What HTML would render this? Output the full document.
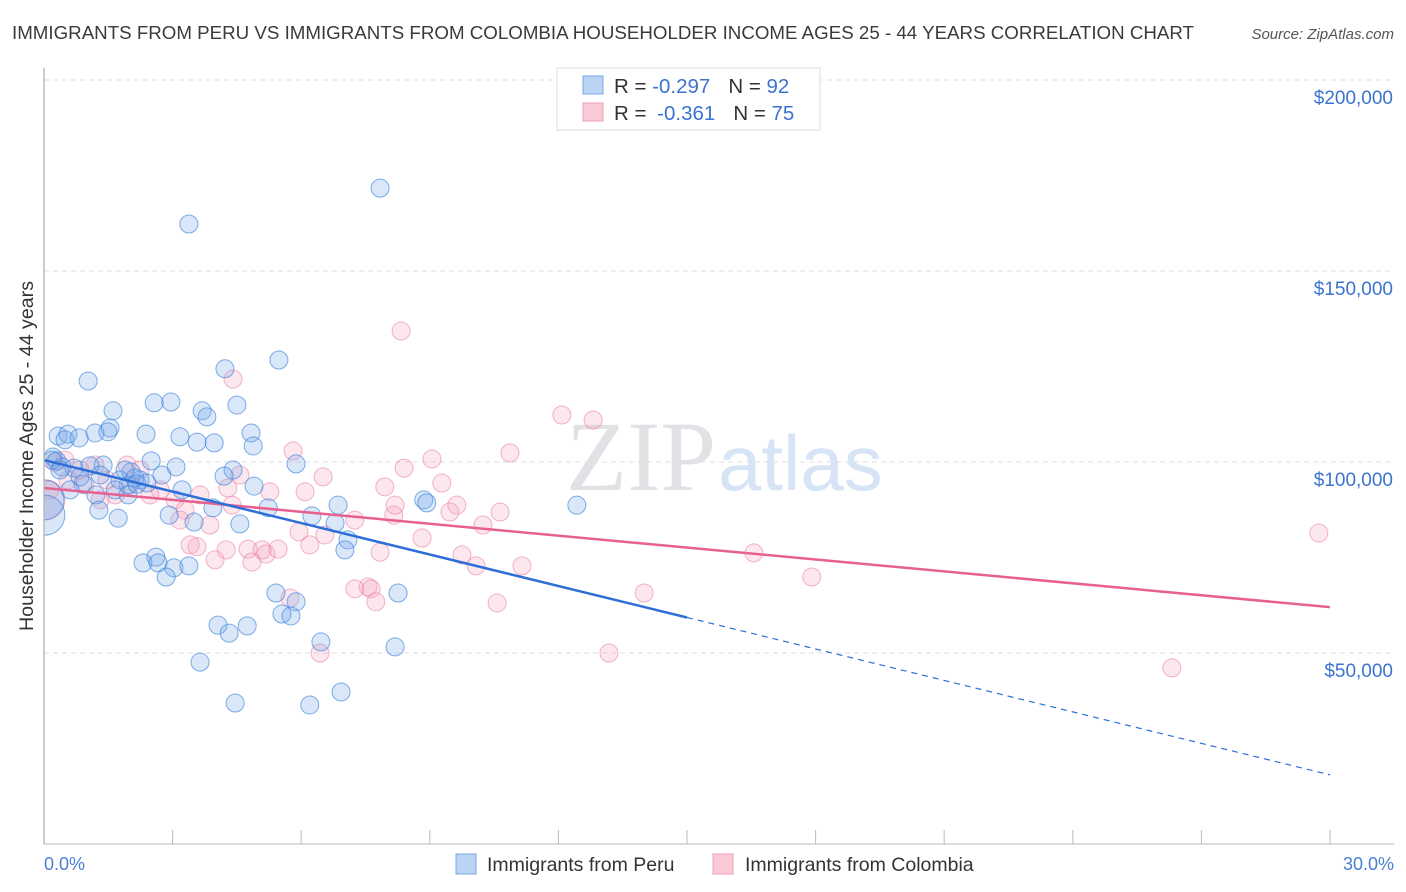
<!DOCTYPE html>
<html><head><meta charset="utf-8"><style>
body{margin:0;background:#fff;font-family:"Liberation Sans",sans-serif;}
svg{display:block}
</style></head><body>
<svg id="chart" width="1406" height="892" xmlns="http://www.w3.org/2000/svg">
<defs><clipPath id="plotclip"><rect x="44" y="60" width="1360" height="784"/></clipPath></defs>
<text x="12" y="39" font-size="18" fill="#3a3a3a" textLength="1182" lengthAdjust="spacingAndGlyphs">IMMIGRANTS FROM PERU VS IMMIGRANTS FROM COLOMBIA HOUSEHOLDER INCOME AGES 25 - 44 YEARS CORRELATION CHART</text>
<text x="1394" y="39" font-size="15" fill="#555" font-style="italic" text-anchor="end">Source: ZipAtlas.com</text>
<text transform="translate(33,456) rotate(-90)" font-size="19" fill="#333" text-anchor="middle" textLength="350" lengthAdjust="spacingAndGlyphs">Householder Income Ages 25 - 44 years</text>
<g id="grid"></g>
<text x="716" y="490" font-size="100" fill="#e2e2e6" text-anchor="end" font-family="Liberation Serif,serif">ZIP</text>
<text x="718" y="490" font-size="78" fill="#d6e4f6">atlas</text>
<g id="points" clip-path="url(#plotclip)"></g>
<g id="trends"></g>
<line x1="44" y1="68" x2="44" y2="844" stroke="#bbb" stroke-width="1.5"/>
<line x1="44" y1="844" x2="1394" y2="844" stroke="#bbb" stroke-width="1"/>
<text x="44" y="870" font-size="18" fill="#4a7fd6">0.0%</text>
<text x="1394" y="870" font-size="18" fill="#4a7fd6" text-anchor="end">30.0%</text>
<g>
<rect x="557" y="68" width="263" height="62" fill="#fff" stroke="#ddd"/>
<rect x="583" y="76" width="20" height="18" fill="#bcd4f4" stroke="#7aa7e4"/>
<rect x="583" y="103" width="20" height="18" fill="#f9c9d6" stroke="#eda0b8"/>
<text x="614" y="93" font-size="20.5" fill="#333">R = <tspan fill="#3b73d1">-0.297</tspan><tspan dx="18">N = </tspan><tspan fill="#3b73d1">92</tspan></text>
<text x="614" y="120" font-size="20.5" fill="#333">R = <tspan fill="#3b73d1" dx="5">-0.361</tspan><tspan dx="18">N = </tspan><tspan fill="#3b73d1">75</tspan></text>
</g>
<g>
<rect x="456" y="854" width="20" height="20" fill="#bcd4f4" stroke="#7aa7e4"/>
<text x="487" y="871" font-size="19.5" fill="#333">Immigrants from Peru</text>
<rect x="713" y="854" width="20" height="20" fill="#f9c9d6" stroke="#eda0b8"/>
<text x="745" y="871" font-size="19.5" fill="#333">Immigrants from Colombia</text>
</g>
</svg>
<script>
const yTicks=[50000,100000,150000,200000];
const yTickLabels=["$50,000","$100,000","$150,000","$200,000"];
const xTicks=[0,3,6,9,12,15,18,21,24,27,30];
const peruX=[7.84,3.38,5.48,4.22,1.03,2.57,2.96,4.50,1.61,3.69,3.80,1.54,1.19,1.49,2.38,0.33,0.56,0.49,0.82,3.17,3.57,3.97,4.83,4.88,0.21,0.30,2.50,5.88,3.08,4.41,1.38,0.42,0.70,1.07,2.03,2.24,2.75,4.20,0.84,1.77,1.96,4.90,0.91,1.21,3.22,5.23,6.86,8.86,8.93,12.43,1.28,1.73,3.94,2.92,6.25,6.79,3.50,4.57,7.09,7.02,2.31,2.61,2.66,3.03,3.38,2.85,0.00,0.02,5.41,8.26,5.88,5.55,5.76,4.06,4.74,4.32,6.46,8.19,3.64,6.93,4.46,6.20,0.19,0.37,0.61,1.31,1.66,1.89,2.12,1.96,2.17,2.40];
const peruY=[171.7,162.3,126.7,124.4,121.2,115.5,115.7,114.9,113.4,113.4,111.8,108.9,107.6,107.9,107.3,106.8,107.3,105.8,106.3,106.6,105.2,105.0,107.6,104.2,101.3,100.3,100.3,99.5,98.7,97.9,99.2,98.7,98.4,99.0,97.4,95.3,96.6,96.3,96.1,95.3,94.0,93.7,94.2,91.4,92.7,88.0,88.7,90.1,89.3,88.7,87.4,85.3,88.0,86.1,85.9,84.0,84.3,83.8,79.6,77.0,73.6,75.1,73.6,72.3,72.8,69.9,90.1,86.1,65.7,65.7,63.4,60.2,59.7,57.3,57.1,55.2,52.9,51.6,47.6,39.8,36.9,36.4,100.5,97.9,92.7,96.6,92.7,97.9,95.8,91.4,94.2,94.5];
const colX=[8.33,4.41,12.08,12.81,5.81,10.87,9.05,8.40,6.51,9.28,7.95,6.09,5.27,1.94,1.19,0.49,0.84,0.26,1.47,2.24,2.71,3.06,9.63,9.47,10.64,8.16,7.25,10.24,8.19,4.39,3.87,3.29,3.17,4.29,5.95,6.55,8.82,4.76,3.41,3.57,4.25,5.09,5.18,5.46,3.99,4.85,6.20,7.84,9.75,10.08,11.15,16.56,17.91,7.56,7.25,7.63,7.74,10.57,14.00,5.74,6.44,13.18,26.31,29.74,0.02,0.14,0.96,1.66,2.47,3.64,4.57,1.31,2.01,0.56];
const colY=[134.3,121.7,112.3,111.0,102.9,102.4,100.8,98.4,96.1,94.5,93.5,92.2,92.2,99.2,99.2,100.5,97.9,100.0,95.3,97.9,92.7,90.1,88.7,86.9,86.9,86.1,84.8,83.5,88.7,88.7,83.5,87.4,84.8,93.2,81.7,80.9,80.1,77.2,78.3,77.8,77.0,77.0,75.9,77.2,74.4,73.8,78.3,76.4,75.7,72.8,72.8,76.2,69.9,67.3,66.8,66.8,63.4,63.1,65.7,64.4,50.0,50.0,46.1,81.4,90.1,92.7,94.0,91.4,91.4,91.4,96.6,90.1,94.0,95.3];
const peruTrend=[100.5,18.1];
const peruSolidEnd=15;
const colTrend=[93.2,62.0];
const NS="http://www.w3.org/2000/svg";
function xs(p){return 44+p*(1330-44)/30;}
function ys(k){return 844-k*1000/50000*191;}
function mk(t,a){const e=document.createElementNS(NS,t);for(const k in a)e.setAttribute(k,a[k]);return e;}
const grid=document.getElementById('grid');
yTicks.forEach((v,i)=>{
  const l=mk('line',{x1:44,x2:1394,y1:ys(v/1000),y2:ys(v/1000),stroke:'#ddd','stroke-dasharray':'5,4'});
  
  
  grid.appendChild(l);
  const t=mk('text',{x:1393,y:ys(v/1000)+24,'font-size':19,fill:'#3b73d1','text-anchor':'end'});
  t.textContent=yTickLabels[i];
  
  
  grid.appendChild(t);
});
xTicks.forEach(v=>{
  const l=mk('line',{x1:xs(v),x2:xs(v),y1:830,y2:844,stroke:'#bbb'});
  
  
  grid.appendChild(l);
});
const pts=document.getElementById('points');
function drawSeries(X,Y,fill,stroke,name){
  X.forEach((x,i)=>{
    const big=x<0.05;
    const c=mk('circle',{cx:xs(x),cy:ys(Y[i]),r:big?20:9,fill:fill,stroke:stroke,'stroke-width':1});
    
    
    pts.appendChild(c);
  });
}
drawSeries(colX,colY,'rgba(244,160,188,0.25)','rgba(236,130,165,0.6)','point-colombia');
drawSeries(peruX,peruY,'rgba(120,170,235,0.28)','rgba(60,130,220,0.65)','point-peru');
const tr=document.getElementById('trends');
function lerp(a,b,x){return a+(b-a)*x/30;}
let l=mk('line',{x1:xs(0),y1:ys(colTrend[0]),x2:xs(30),y2:ys(colTrend[1]),stroke:'#e8608f','stroke-width':2.5});


tr.appendChild(l);
l=mk('line',{x1:xs(0),y1:ys(peruTrend[0]),x2:xs(peruSolidEnd),y2:ys(lerp(peruTrend[0],peruTrend[1],peruSolidEnd)),stroke:'#2d6fd6','stroke-width':2.5});


tr.appendChild(l);
l=mk('line',{x1:xs(peruSolidEnd),y1:ys(lerp(peruTrend[0],peruTrend[1],peruSolidEnd)),x2:xs(30),y2:ys(peruTrend[1]),stroke:'#2d6fd6','stroke-width':1.2,'stroke-dasharray':'6,5'});


tr.appendChild(l);
</script>
</body></html>
